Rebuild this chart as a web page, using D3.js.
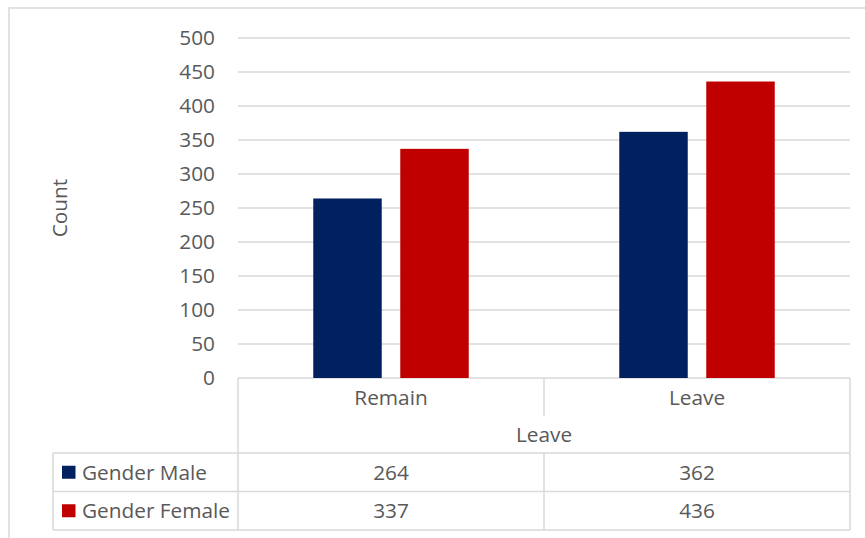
<!DOCTYPE html>
<html>
<head>
<meta charset="utf-8">
<script src="https://cdn.jsdelivr.net/npm/d3@7"></script>
<style>
  html, body { margin: 0; padding: 0; background: #fff; }
  svg { display: block; font-family: "Open Sans", sans-serif; }
</style>
</head>
<body>
<svg id="chart" width="865" height="538"></svg>
<script>
// Survey counts by vote choice and gender
const categories = ["Remain", "Leave"];
const seriesNames = ["Gender Male", "Gender Female"];
const maleCounts = [264, 362];
const femaleCounts = [337, 436];
const yTicks = [0, 50, 100, 150, 200, 250, 300, 350, 400, 450, 500];
const seriesColors = ["#002060", "#C00000"];

const seriesValues = [maleCounts, femaleCounts];

const svg = d3.select("#chart");
const textColor = "#595959";
const lineColor = "#d9d9d9";
const fontSize = 20.8;

// outer chart frame
svg.append("rect")
  .attr("x", 9).attr("y", 8)
  .attr("width", 880).attr("height", 560)
  .attr("fill", "none").attr("stroke", lineColor).attr("stroke-width", 1.5);

const plot = { left: 238, right: 850, top: 38, bottom: 378 };

const y = d3.scaleLinear().domain([0, 500]).range([plot.bottom, plot.top]);
const x0 = d3.scaleBand().domain(categories).range([plot.left, plot.right]).padding(0);
const x1 = d3.scaleBand().domain(seriesNames).range([0, x0.bandwidth()])
  .paddingInner(0.213).paddingOuter(0.865);

// gridlines
svg.append("g").selectAll("line").data(yTicks).join("line")
  .attr("x1", plot.left).attr("x2", plot.right)
  .attr("y1", d => y(d)).attr("y2", d => y(d))
  .attr("stroke", lineColor).attr("stroke-width", 1.5);

// y axis labels
const yAxis = d3.axisLeft(y).tickValues(yTicks).tickSize(0).tickPadding(0);
const yg = svg.append("g").attr("transform", "translate(215,0)").call(yAxis);
yg.select(".domain").remove();
yg.selectAll("text")
  .attr("fill", textColor).attr("font-size", fontSize)
  .attr("font-family", "'Open Sans', sans-serif");

// y axis title
svg.append("text")
  .attr("transform", `translate(60,${(plot.top + plot.bottom) / 2}) rotate(-90)`)
  .attr("text-anchor", "middle").attr("dy", "0.35em")
  .attr("font-size", fontSize).attr("fill", textColor)
  .text("Count");

// bars
const groups = svg.append("g").selectAll("g").data(categories).join("g")
  .attr("transform", d => `translate(${x0(d)},0)`);
groups.selectAll("rect")
  .data((c, ci) => seriesNames.map((s, si) => ({ s, si, v: seriesValues[si][ci] })))
  .join("rect")
  .attr("x", d => x1(d.s))
  .attr("width", x1.bandwidth())
  .attr("y", d => y(d.v))
  .attr("height", d => y(0) - y(d.v))
  .attr("fill", d => seriesColors[d.si]);

// data table below the plot
const catRowBottom = 416;
const titleRowBottom = 453;
const rowH = 38.5;
const legendLeft = 53;
const tableBottom = titleRowBottom + rowH * 2;

const tbl = svg.append("g").attr("stroke", lineColor).attr("stroke-width", 1.5);
// horizontal rules
[titleRowBottom, titleRowBottom + rowH, tableBottom].forEach(yy => {
  tbl.append("line").attr("x1", legendLeft).attr("x2", plot.right)
    .attr("y1", yy).attr("y2", yy);
});
// vertical rules
tbl.append("line").attr("x1", plot.left).attr("x2", plot.left).attr("y1", plot.bottom).attr("y2", tableBottom);
tbl.append("line").attr("x1", plot.right).attr("x2", plot.right).attr("y1", plot.bottom).attr("y2", tableBottom);
tbl.append("line").attr("x1", legendLeft).attr("x2", legendLeft).attr("y1", titleRowBottom).attr("y2", tableBottom);
const mid = x0("Leave");
tbl.append("line").attr("x1", mid).attr("x2", mid).attr("y1", plot.bottom).attr("y2", catRowBottom);
tbl.append("line").attr("x1", mid).attr("x2", mid).attr("y1", titleRowBottom).attr("y2", tableBottom);

const txt = svg.append("g").attr("fill", textColor).attr("font-size", fontSize)
  .attr("text-anchor", "middle");
// category labels
categories.forEach(c => {
  txt.append("text").attr("x", x0(c) + x0.bandwidth() / 2).attr("y", 397.5)
    .attr("dy", "0.35em").text(c);
});
// axis title row
txt.append("text").attr("x", (plot.left + plot.right) / 2).attr("y", 434.5)
  .attr("dy", "0.35em").text("Leave");

// value rows with legend keys
seriesNames.forEach((s, si) => {
  const cy = titleRowBottom + rowH * si + rowH / 2;
  svg.append("rect").attr("x", 62).attr("y", cy - 6.5)
    .attr("width", 13.5).attr("height", 13).attr("fill", seriesColors[si]);
  svg.append("text").attr("x", 82).attr("y", cy).attr("dy", "0.35em")
    .attr("font-size", fontSize).attr("fill", textColor).text(s);
  categories.forEach((c, ci) => {
    txt.append("text").attr("x", x0(c) + x0.bandwidth() / 2).attr("y", cy)
      .attr("dy", "0.35em").text(seriesValues[si][ci]);
  });
});
</script>
</body>
</html>
